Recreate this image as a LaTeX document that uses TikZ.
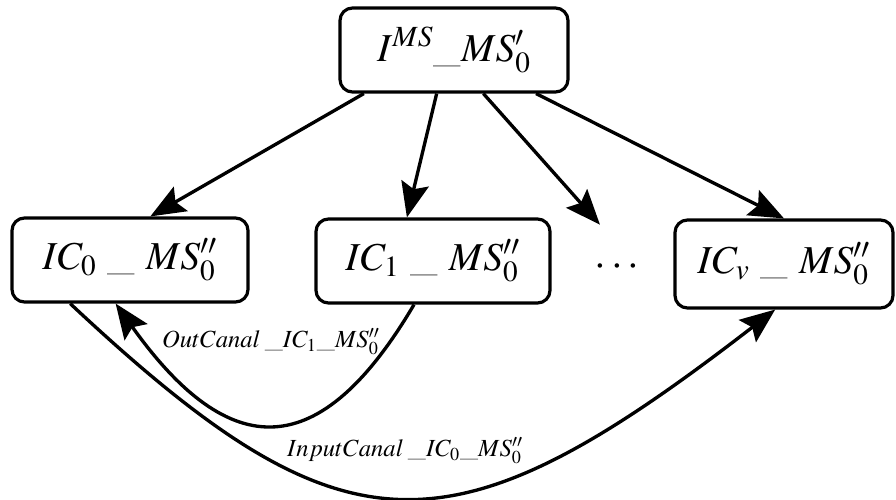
\documentclass[tikz,border=0pt]{standalone}
\usepackage{mathptmx}
\usepackage{tikz}
\usetikzlibrary{arrows.meta, positioning, calc}
\tikzset{
    % Box styles - rounded corners
    state/.style={
        rectangle,
        draw=black,
        rounded corners=0.25cm,
        line width=1.8pt,
        minimum width=4.6cm,
        minimum height=1.68cm,
        align=center,
        font=\fontsize{22.5}{26}\selectfont
    },
    topstate/.style={
        state,
        minimum width=4.56cm,
        font=\fontsize{22.5}{26}\selectfont
    },
    channel/.style={
        font=\fontsize{14}{16}\selectfont
    },
    % Arrow styles
    arrow/.style={
        -{Stealth[length=7mm, width=5.6mm, inset=1.2mm]},
        line width=1.9pt,
        draw=black
    }
}
\begin{document}
\begin{tikzpicture}
    \useasboundingbox (0,0) rectangle (17.92,9.98);

    \node[topstate] (ms) at (9.08,8.98) {$I^{MS}$\_$MS'_0$};

    \node[state, minimum width=4.72cm] (ic0) at (2.6,4.78) {$IC_0$\;\_\;$MS''_0$};
    \node[state, minimum width=4.68cm] (ic1) at (8.66,4.76) {$IC_1$\;\_\;$MS''_0$};
    \node[minimum width=1cm, minimum height=1.68cm, font=\fontsize{24}{28}\selectfont] (dots) at (12.34,4.64) {$\cdots$};
    \node[state, minimum width=4.36cm, minimum height=1.76cm] (icv) at (15.68,4.7) {$IC_v$\;\_\;$MS''_0$};

    \draw[arrow] ($(ms.south west)!0.11!(ms.south east)$) -- ($(ic0.north west)!0.585!(ic0.north east)$);
    \draw[arrow] ($(ms.south west)!0.425!(ms.south east)$) -- ($(ic1.north west)!0.39!(ic1.north east)$);
    \draw[arrow] ($(ms.south west)!0.627!(ms.south east)$) -- ($(dots.north west)!0.2!(dots.north east)$);
    \draw[arrow] ($(ms.south west)!0.855!(ms.south east)$) -- ($(icv.north west)!0.5!(icv.north east)$);

    \coordinate (out1) at ($(ic1.south west)!0.42!(ic1.south east)$);
    \coordinate (out0) at ($(ic0.south west)!0.44!(ic0.south east)$);
    \coordinate (in0) at ($(ic0.south west)!0.25!(ic0.south east)$);
    \coordinate (inv) at ($(icv.south west)!0.46!(icv.south east)$);

    \draw[arrow] (out1) .. controls (6.4,0.7) and (4.6,0.7) .. (out0);
    \draw[arrow] (in0) .. controls (6.9,-1.24) and (9.0,-1.24) .. (inv);

    \node[channel] (outlbl) at (5.42,3.14) {$OutCanal$\,\_$IC_1$\_$MS''_0$};
    \node[channel] (inlbl) at (8.1,0.96) {$InputCanal$\,\_$IC_0$\_$MS''_0$};
\end{tikzpicture}
\end{document}
